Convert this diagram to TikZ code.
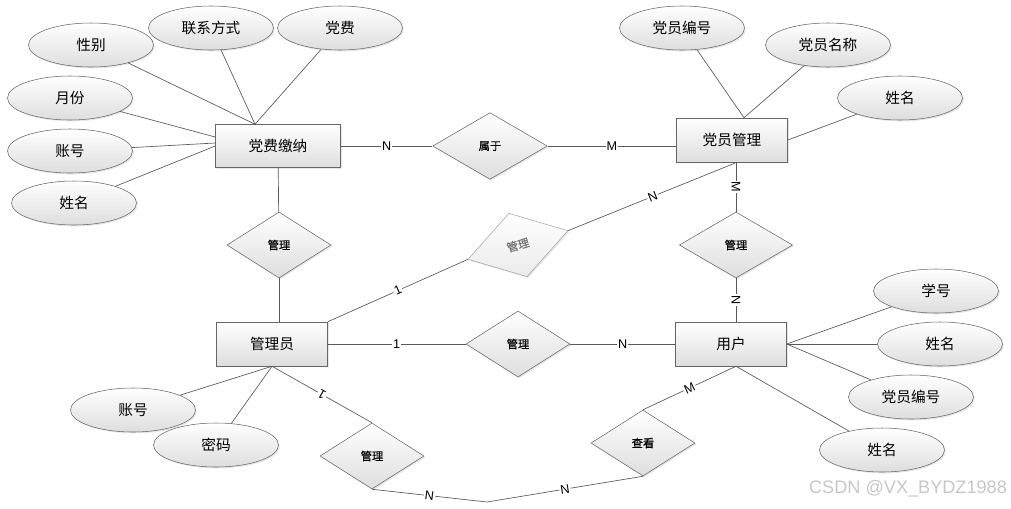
\documentclass[tikz,border=0pt]{standalone}
\usepackage{fontspec}
\setmainfont{Liberation Sans}
\newfontfamily\cjk{Noto Sans CJK SC}
\newfontfamily\cjkrel[FakeBold=0.4]{Noto Sans CJK SC}
\usetikzlibrary{calc,shapes.geometric,shadows}

\tikzset{
  shade/.style={top color=white, bottom color=black!13, drop shadow={shadow xshift=1pt, shadow yshift=-1pt, opacity=0.2}},
  ent/.style={rectangle, draw=black!60, shade, minimum width=83.25pt, minimum height=33pt, inner sep=0pt, font=\cjk\fontsize{11}{13}\selectfont},
  attr/.style={ellipse, draw=black!60, shade, minimum width=93.75pt, minimum height=33pt, inner sep=0pt, font=\cjk\fontsize{11}{13}\selectfont},
  rel/.style={diamond, draw=black!60, shade, minimum width=78pt, minimum height=49.5pt, inner sep=0pt, font=\cjkrel\fontsize{8.5}{10}\selectfont},
  link/.style={draw=black!65, line width=0.5pt},
  lbl/.style={fill=white, inner sep=0.8pt, font=\fontsize{9.5}{10}\selectfont}
}

\begin{document}
\begin{tikzpicture}[x=0.75pt, y=-0.75pt]
		%%%%% FRAME %%%%%
		\useasboundingbox (0,0) rectangle (1011,508);
		
		%%%%% ENTITIES %%%%%
		\node[ent, minimum width=93.75pt, minimum height=32.25pt] (jiaona) at (278,146) {党费缴纳};
		\node[ent] (dangyuan) at (732,140) {党员管理};
		\node[ent] (admin) at (272,344) {管理员};
		\node[ent] (user) at (731,344) {用户};
		
		%%%%% RELATIONS %%%%%
		\node[rel, minimum width=86pt, minimum height=50pt] (shuyu) at (490,146) {属于};
		\node[rel] (gl-left) at (279,245) {管理};
		\node[rel, draw=black!35, text=black!55, bottom color=black!8, rotate=16] (gl-tilt) at (518,245) {管理};
		\node[rel] (gl-mid) at (518,344) {管理};
		\node[rel, minimum width=85pt] (gl-right) at (736,245) {管理};
		\node[rel] (gl-low) at (372,456) {管理};
		\node[rel] (chakan) at (643,443) {查看};
		
		%%%%% ATTRIBUTES %%%%%
		\node[attr] (xingbie) at (91,45) {性别};
		\node[attr] (lianxi) at (211,28) {联系方式};
		\node[attr] (dangfei) at (340,28) {党费};
		\node[attr] (yuefen) at (70,98) {月份};
		\node[attr] (zhanghao) at (70,151) {账号};
		\node[attr] (xm-left) at (74,203) {姓名};
		
		\node[attr] (bianhao) at (682,28) {党员编号};
		\node[attr] (mingcheng) at (828,45) {党员名称};
		\node[attr] (xm-top) at (900,98) {姓名};
		
		\node[attr] (xuehao) at (936,291) {学号};
		\node[attr] (xm-mid) at (940,344) {姓名};
		\node[attr] (bh-user) at (911,397) {党员编号};
		\node[attr] (xm-low) at (882,450) {姓名};
		
		\node[attr] (zh-admin) at (133,410) {账号};
		\node[attr] (mima) at (216,445) {密码};
		
		%%%%% ATTACH POINTS %%%%%
		\coordinate (jiaona-top) at ($(jiaona.north)+(-23,0)$);
		\coordinate (dangyuan-top) at ($(dangyuan.north)+(12,0)$);
		\coordinate (user-low) at ($(user.south)+(5,0)$);
		\coordinate (dip) at (487,502);
		
		%%%%% ATTRIBUTE LINKS %%%%%
		\draw[link] (xingbie) -- (jiaona-top);
		\draw[link] (lianxi) -- (jiaona-top);
		\draw[link] (dangfei) -- (jiaona-top);
		\draw[link] (yuefen) -- ($(jiaona.west)+(0,-9)$);
		\draw[link] (zhanghao) -- ($(jiaona.west)+(0,-3)$);
		\draw[link] (xm-left) -- (jiaona.west);
		
		\draw[link] (bianhao) -- (dangyuan-top);
		\draw[link] (mingcheng) -- (dangyuan-top);
		\draw[link] (xm-top) -- (dangyuan.east);
		
		\draw[link] (xuehao) -- (user.east);
		\draw[link] (xm-mid) -- (user.east);
		\draw[link] (bh-user) -- (user.east);
		\draw[link] (xm-low) -- (user-low);
		
		\draw[link] (zh-admin) -- (admin.south);
		\draw[link] (mima) -- (admin.south);
		
		%%%%% RELATION LINKS %%%%%
		\draw[link] (jiaona.east) -- node[lbl] {N} (shuyu.west);
		\draw[link] (shuyu.east) -- node[lbl] {M} (shuyu.east -| dangyuan.west);
		
		\draw[link] (jiaona) -- (gl-left);
		\draw[link] (gl-left.south) -- (gl-left.south |- admin.north);
		
		\draw[link] (admin.north east) -- node[lbl, rotate=24] {1} (gl-tilt.west);
		\draw[link] (gl-tilt.east) -- node[lbl, rotate=22] {N} ($(dangyuan.south)+(5,0)$);
		
		\draw[link] (admin.east) -- node[lbl] {1} (gl-mid.west);
		\draw[link] (gl-mid.east) -- node[lbl] {N} (user.west);
		
		\draw[link] (gl-right.north |- dangyuan.south) -- node[lbl, rotate=-90] {M} (gl-right.north);
		\draw[link] (gl-right.south) -- node[lbl, rotate=-90] {N} (gl-right.south |- user.north);
		
		\draw[link] (admin.south) -- node[lbl, rotate=150] {1} (gl-low.north);
		\draw[link] (gl-low.south) -- node[lbl, rotate=-7] {N} (dip) -- node[lbl, rotate=9] {N} (chakan.south);
		\draw[link] (chakan.north) -- node[lbl, rotate=25] {M} (user-low);
		
		%%%%% MARK %%%%%
		\node[text=black!22, font=\fontsize{13.6}{15}\selectfont] (mark) at (908,489) {CSDN @VX\_BYDZ1988};
\end{tikzpicture}
\end{document}
